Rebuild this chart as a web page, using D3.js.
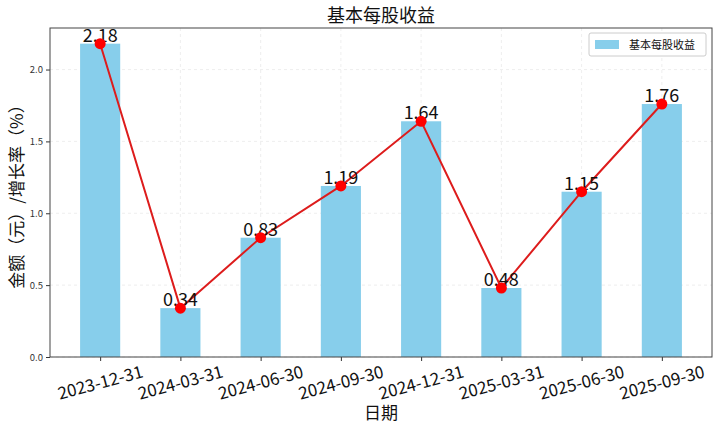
<!DOCTYPE html>
<html><head><meta charset="utf-8">
<script src="https://cdn.jsdelivr.net/npm/d3@7"></script>
<style>body{margin:0;background:#fff}svg{display:block}text{font-family:"Noto Sans CJK SC","DejaVu Sans",sans-serif}</style>
</head><body>
<svg id="c" width="719" height="430"></svg>
<script>
const categories = ["2023-12-31","2024-03-31","2024-06-30","2024-09-30","2024-12-31","2025-03-31","2025-06-30","2025-09-30"];
const epsValues = [2.18,0.34,0.83,1.19,1.64,0.48,1.15,1.76];
const yTicks = [0.0,0.5,1.0,1.5,2.0];
const title = "基本每股收益";
const seriesName = "基本每股收益";
const xLabel = "日期";
const yLabel = "金额（元）/增长率（%）";

const svg = d3.select("#c");
const L = 50, R = 712, T = 28, B = 357;
const x = d3.scaleLinear().domain([-0.625, categories.length - 1 + 0.625]).range([L, R]);
const y = d3.scaleLinear().domain([0, 2.289]).range([B, T]);
const bw = x(0.5) - x(0);

// grid
const g = svg.append("g");
g.selectAll(".gx").data(categories).enter().append("line")
  .attr("x1",(d,i)=>x(i)).attr("x2",(d,i)=>x(i)).attr("y1",T).attr("y2",B)
  .attr("stroke","#eaeaea").attr("stroke-dasharray","3,3").attr("stroke-width",0.8);
g.selectAll(".gy").data(yTicks).enter().append("line")
  .attr("x1",L).attr("x2",R).attr("y1",d=>y(d)).attr("y2",d=>y(d))
  .attr("stroke","#eaeaea").attr("stroke-dasharray","3,3").attr("stroke-width",0.8);

// bars
svg.selectAll(".bar").data(epsValues).enter().append("rect")
  .attr("x",(d,i)=>x(i)-bw/2).attr("width",bw)
  .attr("y",d=>y(d)).attr("height",d=>B-y(d)).attr("fill","#87CEEB");

// line
const line = d3.line().x((d,i)=>x(i)).y(d=>y(d));
svg.append("path").datum(epsValues).attr("d",line).attr("fill","none")
  .attr("stroke","#dd1c1c").attr("stroke-width",2);

// value labels
svg.selectAll(".lbl").data(epsValues).enter().append("text")
  .attr("x",(d,i)=>x(i)).attr("y",d=>y(d)-2).attr("text-anchor","middle")
  .attr("font-size",18).attr("fill","#111").text(d=>d.toFixed(2));

// markers
svg.selectAll(".pt").data(epsValues).enter().append("circle")
  .attr("cx",(d,i)=>x(i)).attr("cy",d=>y(d)).attr("r",5.5).attr("fill","#f00");

// axes
const xa = svg.append("g").attr("transform",`translate(0,${B})`)
  .call(d3.axisBottom(x).tickValues(d3.range(categories.length)).tickFormat(i=>categories[i]).tickSize(4).tickSizeOuter(0));
xa.select(".domain").remove();
xa.selectAll("line").attr("stroke","#333");
xa.selectAll("text").attr("font-size",17).attr("fill","#111")
  .attr("text-anchor","middle").attr("dy",null).attr("y",null)
  .attr("transform","translate(0,27) rotate(-15)").attr("dominant-baseline","middle");

const ya = svg.append("g").attr("transform",`translate(${L},0)`)
  .call(d3.axisLeft(y).tickValues(yTicks).tickFormat(d3.format(".1f")).tickSize(4).tickSizeOuter(0));
ya.select(".domain").remove();
ya.selectAll("line").attr("stroke","#333");
ya.selectAll("text").attr("font-size",9.5).attr("fill","#333");

svg.append("rect").attr("x",L).attr("y",T).attr("width",R-L).attr("height",B-T)
  .attr("fill","none").attr("stroke","#444").attr("stroke-width",1);

// titles
svg.append("text").attr("x",(L+R)/2).attr("y",22).attr("text-anchor","middle")
  .attr("font-size",18).attr("fill","#111").text(title);
svg.append("text").attr("x",(L+R)/2).attr("y",419).attr("text-anchor","middle")
  .attr("font-size",17).attr("fill","#111").text(xLabel);
svg.append("text").attr("transform",`translate(23,${(T+B)/2}) rotate(-90)`).attr("text-anchor","middle")
  .attr("font-size",17).attr("fill","#111").text(yLabel);

// legend
const lg = svg.append("g");
lg.append("rect").attr("x",589).attr("y",33).attr("width",117).attr("height",23)
  .attr("rx",2).attr("fill","#fff").attr("stroke","#ccc");
lg.append("rect").attr("x",595).attr("y",40).attr("width",24).attr("height",9).attr("fill","#87CEEB");
lg.append("text").attr("x",629).attr("y",49).attr("font-size",11).attr("fill","#111").text(seriesName);
</script>
</body></html>
